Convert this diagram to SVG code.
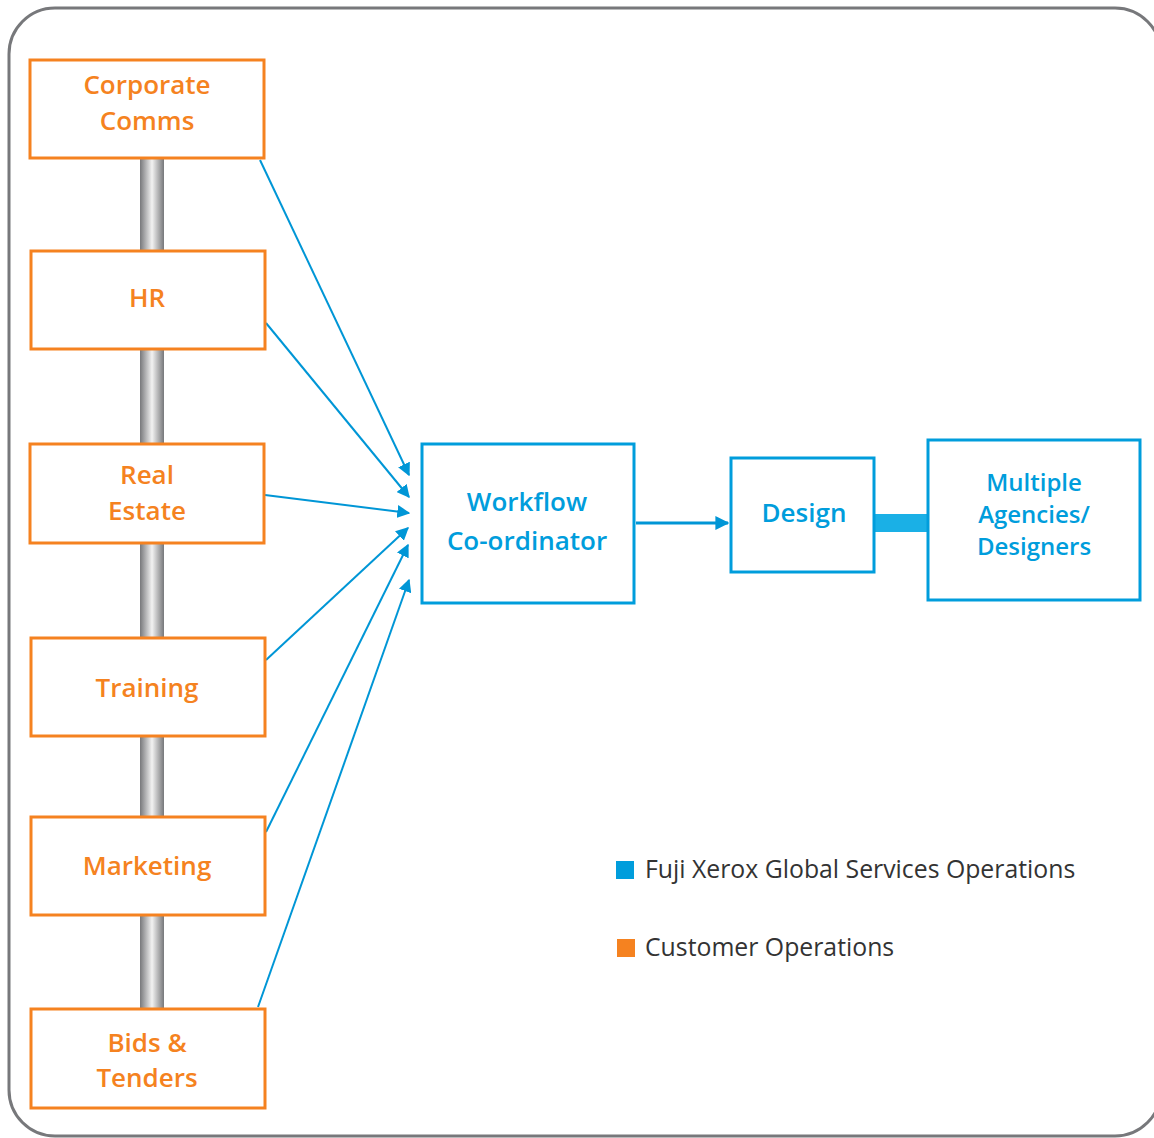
<svg xmlns="http://www.w3.org/2000/svg" width="1154" height="1138" viewBox="0 0 1154 1138">
<defs>
<linearGradient id="pipe" x1="0" y1="0" x2="1" y2="0">
<stop offset="0" stop-color="#77787b"/>
<stop offset="0.5" stop-color="#f2f2f2"/>
<stop offset="1" stop-color="#77787b"/>
</linearGradient>
<marker id="ah" viewBox="0 0 10 10" refX="9" refY="5" markerWidth="13" markerHeight="13" markerUnits="userSpaceOnUse" orient="auto">
<path d="M0,0 L10,5 L0,10 Z" fill="#0096d6"/>
</marker>
<marker id="ah2" viewBox="0 0 10 10" refX="9" refY="5" markerWidth="14" markerHeight="20" markerUnits="userSpaceOnUse" orient="auto">
<path d="M0,0 L10,5 L0,10 Z" fill="#0096d6"/>
</marker>
</defs>
<style>
.org{fill:#fff;stroke:#f58220;stroke-width:3}
.blu{fill:#fff;stroke:#009ddc;stroke-width:3}
.ot{fill:#f58220;font-family:"Open Sans","Noto Sans",sans-serif;font-weight:600;font-size:26px;text-anchor:middle}
.bt{fill:#009ddc;font-family:"Open Sans","Noto Sans",sans-serif;font-weight:600;font-size:26px;text-anchor:middle}
.bs{font-size:24px}
.lg{fill:#333;font-family:"Open Sans","Noto Sans",sans-serif;font-size:24.8px}
.ar{stroke:#0096d6;stroke-width:2;fill:none;marker-end:url(#ah)}
</style>
<rect x="9" y="8" width="1152" height="1128" rx="46" fill="#fff" stroke="#77787b" stroke-width="3"/>
<g id="pipes">
<rect x="140" y="158" width="24" height="93" fill="url(#pipe)"/>
<rect x="140" y="349" width="24" height="95" fill="url(#pipe)"/>
<rect x="140" y="543" width="24" height="95" fill="url(#pipe)"/>
<rect x="140" y="736" width="24" height="81" fill="url(#pipe)"/>
<rect x="140" y="915" width="24" height="94" fill="url(#pipe)"/>
</g>
<g id="connectors">
<line class="ar" x1="260" y1="160" x2="409" y2="475"/>
<line class="ar" x1="266" y1="323" x2="409" y2="497"/>
<line class="ar" x1="265" y1="495" x2="409" y2="513"/>
<line class="ar" x1="266" y1="660" x2="408" y2="528"/>
<line class="ar" x1="266" y1="832" x2="408" y2="545"/>
<line class="ar" x1="258" y1="1007" x2="409" y2="580"/>
<line x1="636" y1="523" x2="728" y2="523" stroke="#0096d6" stroke-width="3" marker-end="url(#ah2)"/>
<rect x="874" y="514" width="54" height="18" fill="#1ab0e6"/>
</g>
<g id="corporate-comms"><rect class="org" x="30" y="60" width="234" height="98"/><text class="ot" x="147" y="94">Corporate</text><text class="ot" x="147" y="130">Comms</text></g>
<g id="hr"><rect class="org" x="31" y="251" width="234" height="98"/><text class="ot" x="147" y="307">HR</text></g>
<g id="real-estate"><rect class="org" x="30" y="444" width="234" height="99"/><text class="ot" x="147" y="484">Real</text><text class="ot" x="147" y="520">Estate</text></g>
<g id="training"><rect class="org" x="31" y="638" width="234" height="98"/><text class="ot" x="147" y="697">Training</text></g>
<g id="marketing"><rect class="org" x="31" y="817" width="234" height="98"/><text class="ot" x="147" y="875">Marketing</text></g>
<g id="bids-tenders"><rect class="org" x="31" y="1009" width="234" height="99"/><text class="ot" x="147" y="1052">Bids &amp;</text><text class="ot" x="147" y="1087">Tenders</text></g>
<g id="workflow"><rect class="blu" x="422" y="444" width="212" height="159"/><text class="bt" x="527" y="511">Workflow</text><text class="bt" x="527" y="550">Co-ordinator</text></g>
<g id="design"><rect class="blu" x="731" y="458" width="143" height="114"/><text class="bt" x="804" y="522">Design</text></g>
<g id="agencies"><rect class="blu" x="928" y="440" width="212" height="160"/><text class="bt bs" x="1034" y="491">Multiple</text><text class="bt bs" x="1034" y="523">Agencies/</text><text class="bt bs" x="1034" y="555">Designers</text></g>
<g id="legend">
<rect x="616" y="861" width="18" height="18" fill="#009ddc"/>
<text class="lg" x="645" y="878">Fuji Xerox Global Services Operations</text>
<rect x="617" y="939" width="18" height="18" fill="#f58220"/>
<text class="lg" x="645" y="956">Customer Operations</text>
</g>
</svg>
